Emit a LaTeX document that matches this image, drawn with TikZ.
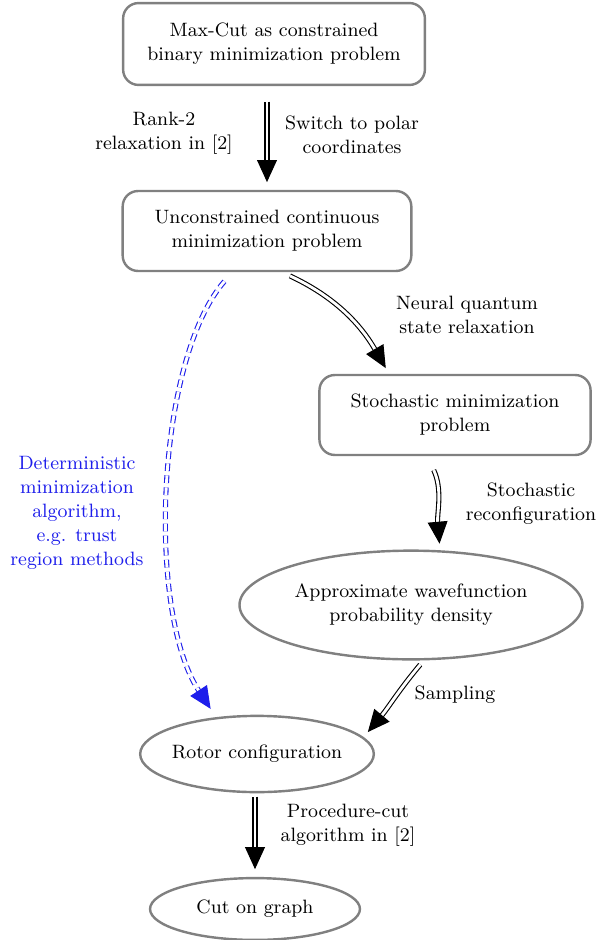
\documentclass[tikz,border=0pt]{standalone}
\usetikzlibrary{arrows.meta,shapes.geometric}
\definecolor{detblue}{RGB}{30,30,235}
\begin{document}
\begin{tikzpicture}[x=0.016cm, y=0.016cm, font=\fontsize{8.8}{10.9}\selectfont,
  box/.style={draw=gray, line width=1.1pt, rounded corners=7pt, align=center},
  oval/.style={draw=gray, line width=1.1pt, ellipse, inner sep=0pt, inner xsep=-2pt, align=center},
  dbl/.style={draw=black, double, line width=0.5pt, double distance=1.3pt, -{Triangle[length=10pt,width=9pt]}},
  lbl/.style={align=center}]
\useasboundingbox (0,0) rectangle (597,-940);

% Boxes
\node[box, minimum width=4.83cm, minimum height=1.31cm] (maxcut) at (274,-44) {Max-Cut as constrained\\binary minimization problem};
\node[box, minimum width=4.62cm, minimum height=1.28cm] (uncon) at (267,-231) {Unconstrained continuous\\minimization problem};
\node[box, minimum width=4.34cm, minimum height=1.28cm] (stoch) at (455,-415) {Stochastic minimization\\problem};

% Ellipses
\node[oval, minimum width=5.49cm, minimum height=1.74cm] (wave) at (411,-605) {Approximate wavefunction\\probability density};
\node[oval, minimum width=3.74cm, minimum height=1.22cm] (rotor) at (257,-754) {Rotor configuration};
\node[oval, minimum width=3.36cm, minimum height=0.99cm] (cut) at (255,-909) {Cut on graph};

% Arrows
\draw[dbl, shorten <=7pt, shorten >=3.5pt] (uncon.north |- maxcut.south) -- (uncon.north);
\draw[dbl, shorten <=4pt, shorten >=3pt] (uncon.290) to[out=-25, in=120] (stoch.148);
\draw[dbl, shorten <=7pt, shorten >=3pt] (stoch.236) to[out=-65, in=95] (wave.62);
\draw[dbl, shorten <=2.5pt, shorten >=3pt] (wave.283) to[out=-130, in=50] (rotor.9);
\draw[dbl, shorten <=1.5pt, shorten >=3.5pt] (cut.north |- rotor.south) -- (cut.north);
\draw[dbl, draw=detblue, dash pattern=on 3.5pt off 2pt, shorten <=5.5pt, shorten >=4.5pt] (uncon.230) .. controls +(-76,-87) and +(-70,107) .. (rotor.138);

% Labels
\node[lbl] (l1) at (164,-133) {Rank-2\\relaxation in [2]};
\node[lbl] (l2) at (352,-135) {Switch to polar\\coordinates};
\node[lbl] (l3) at (467,-315) {Neural quantum\\state relaxation};
\node[lbl] (l4) at (531,-504) {Stochastic\\reconfiguration};
\node[lbl, text=detblue] (l5) at (77,-513) {Deterministic\\minimization\\algorithm,\\e.g. trust\\region methods};
\node[lbl] (l6) at (455,-695) {Sampling};
\node[lbl] (l7) at (348,-825) {Procedure-cut\\algorithm in [2]};
\end{tikzpicture}
\end{document}
